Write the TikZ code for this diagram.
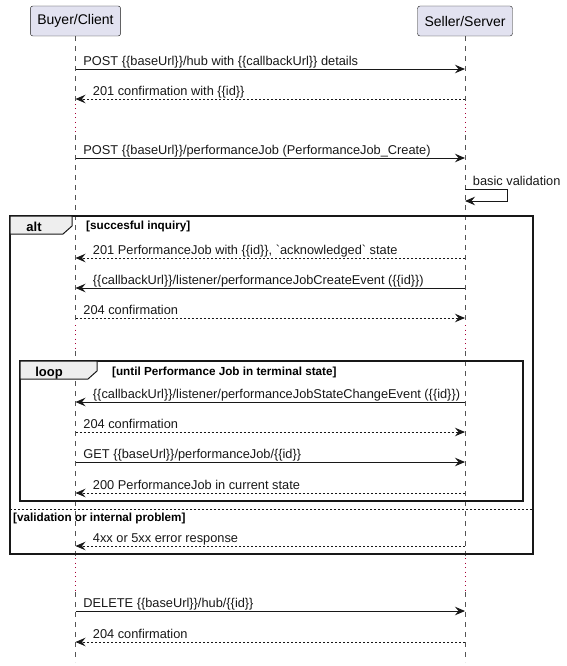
\documentclass[tikz,border=0pt]{standalone}
\usepackage{fontspec}
\setmainfont{Liberation Sans}
\usepackage{tikz}
\usetikzlibrary{arrows.meta,positioning}

\definecolor{partfill}{HTML}{E2E2F0}
\definecolor{ink}{HTML}{181818}
\definecolor{lifegray}{HTML}{555555}
\definecolor{delayred}{HTML}{A80036}
\definecolor{tabfill}{HTML}{EEEEEE}

\begin{document}
\begin{tikzpicture}[x=1pt, y=-1pt, >={Stealth[length=10pt,width=8.5pt,inset=3.5pt]},
                    participant/.style={draw=ink,fill=partfill,rounded corners=2.5pt,
                      minimum height=30pt,inner xsep=7pt,font=\fontsize{14}{16}\selectfont},
                    lifeline/.style={lifegray,dash pattern=on 5pt off 5pt,line width=0.7pt},
                    delay/.style={delayred,dash pattern=on 1pt off 3.5pt,line width=1pt},
                    call/.style={->,ink,line width=0.9pt},
                    reply/.style={->,ink,line width=0.9pt,dash pattern=on 2pt off 2pt},
                    ack/.style={->,ink,line width=0.9pt,dash pattern=on 2pt off 2pt},
                    msgr/.style={anchor=base west,xshift=7.5pt,yshift=3.6pt,inner sep=0pt,
                      font=\fontsize{12.8}{15}\selectfont},
                    msgl/.style={anchor=base west,xshift=17pt,yshift=3.6pt,inner sep=0pt,
                      font=\fontsize{12.8}{15}\selectfont},
                    guard/.style={anchor=base west,inner sep=0pt,font=\fontsize{11.7}{13}\selectfont\bfseries},
                    frame/.style={draw=ink,line width=1.5pt},
                    tab/.style={draw=ink,fill=tabfill,line width=1pt},
                    tablabel/.style={inner sep=0pt,anchor=base,font=\fontsize{13}{15}\selectfont\bfseries}]

  \useasboundingbox (0,0) rectangle (566,666);

  % participants
  \node[participant] (buyer) at (75.5,21) {Buyer/Client};
  \node[participant] (seller) at (465,21) {Seller/Server};

  % message points on the lifelines
  \foreach \n/\y in {1/69,2/99,3/158,4/258,5/288,6/318,7/402,8/432,9/462,10/493,11/546,12/611,13/642} {
    \coordinate (b\n) at (75.5,\y);
    \coordinate (s\n) at (465,\y);
  }
  \foreach \n/\y in {top/36,d1a/104,d1b/135,d2a/325,d2b/351,d3a/558,d3b/592,end/662} {
    \coordinate (bl\n) at (75.5,\y);
    \coordinate (sl\n) at (465,\y);
  }

  % lifelines
  \draw[lifeline] (bltop) -- (bld1a) (bld1b) -- (bld2a) (bld2b) -- (bld3a) (bld3b) -- (blend);
  \draw[lifeline] (sltop) -- (sld1a) (sld1b) -- (sld2a) (sld2b) -- (sld3a) (sld3b) -- (slend);
  \draw[delay] (bld1a) -- (bld1b) (bld2a) -- (bld2b) (bld3a) -- (bld3b);
  \draw[delay] (sld1a) -- (sld1b) (sld2a) -- (sld2b) (sld3a) -- (sld3b);

  % alt and loop frames
  \draw[frame] (10,216) rectangle (533,554);
  \draw[tab] (10,216) -- (72,216) -- (72,226) -- (63,234) -- (10,234) -- cycle;
  \node[tablabel] (alttag) at (34,231) {alt};
  \node[guard] (altguard) at (86,229) {[succesful inquiry]};
  \draw[ink,line width=0.8pt,dash pattern=on 2pt off 2pt] (10,509) -- (533,509);
  \node[guard] (elseguard) at (13,521) {[validation or internal problem]};

  \draw[frame] (20,361) rectangle (523,501);
  \draw[tab] (20,361) -- (97,361) -- (97,371) -- (88,379) -- (20,379) -- cycle;
  \node[tablabel] (looptag) at (49,376) {loop};
  \node[guard] (loopguard) at (112,375) {[until Performance Job in terminal state]};

  % messages
  \draw[call] (b1) node[msgr] {POST \{\{baseUrl\}\}/hub with \{\{callbackUrl\}\} details} -- (s1);
  \draw[reply] (s2) -- (b2) node[msgl] {201 confirmation with \{\{id\}\}};
  \draw[call] (b3) node[msgr] {POST \{\{baseUrl\}\}/performanceJob (PerformanceJob\_Create)} -- (s3);

  \coordinate (v1) at (465,189);
  \coordinate (v2) at (507,189);
  \coordinate (v3) at (507,201);
  \coordinate (v4) at (465,201);
  \draw[call] (v1) node[msgr] {basic validation} -- (v2) -- (v3) -- (v4);

  \draw[reply] (s4) -- (b4) node[msgl] {201 PerformanceJob with \{\{id\}\}, \textasciigrave acknowledged\textasciigrave{} state};
  \draw[call] (s5) -- (b5) node[msgl] {\{\{callbackUrl\}\}/listener/performanceJobCreateEvent (\{\{id\}\})};
  \draw[ack] (b6) node[msgr] {204 confirmation} -- (s6);

  \draw[call] (s7) -- (b7) node[msgl] {\{\{callbackUrl\}\}/listener/performanceJobStateChangeEvent (\{\{id\}\})};
  \draw[ack] (b8) node[msgr] {204 confirmation} -- (s8);
  \draw[call] (b9) node[msgr] {GET \{\{baseUrl\}\}/performanceJob/\{\{id\}\}} -- (s9);
  \draw[reply] (s10) -- (b10) node[msgl] {200 PerformanceJob in current state};

  \draw[reply] (s11) -- (b11) node[msgl] {4xx or 5xx error response};

  \draw[call] (b12) node[msgr] {DELETE \{\{baseUrl\}\}/hub/\{\{id\}\}} -- (s12);
  \draw[reply] (s13) -- (b13) node[msgl] {204 confirmation};
\end{tikzpicture}
\end{document}
